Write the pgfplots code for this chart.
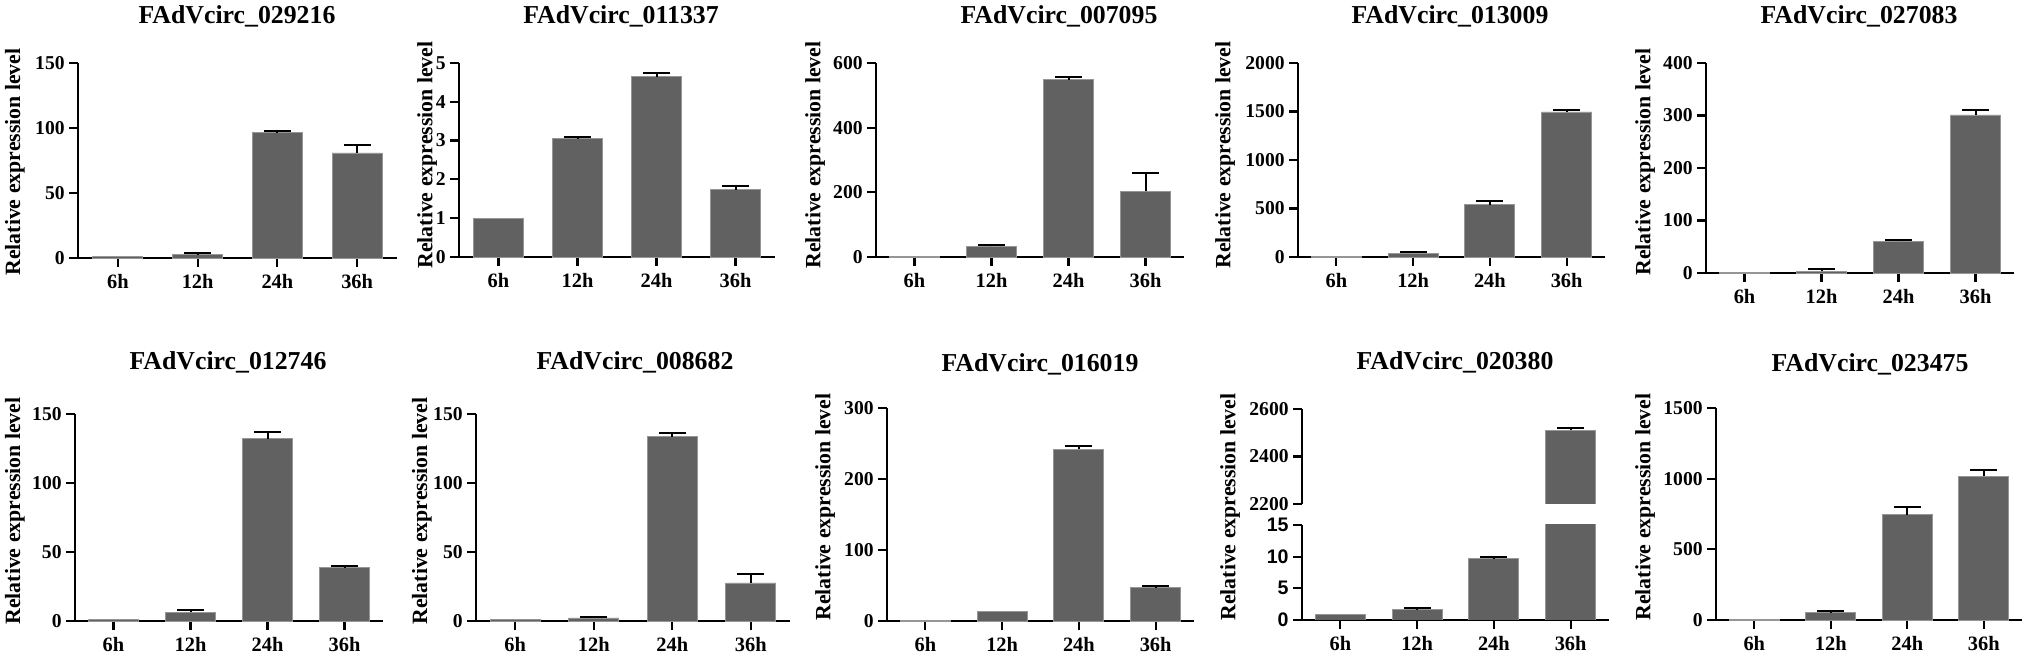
\documentclass[border=0pt]{standalone}
\usepackage{fontspec}
\setmainfont{Liberation Serif}
\newfontfamily\arialb{Liberation Sans}
\usepackage{pgfplots}
\pgfplotsset{compat=1.18}
\definecolor{barfill}{RGB}{97,97,97}
\definecolor{baredge}{RGB}{150,150,150}
\pgfplotsset{
  myaxis/.style={
    scale only axis, anchor=south west,
    ymin=0, ybar, bar width=25pt, bar shift=0pt,
    axis x line*=bottom, axis y line*=left, axis line style={-, line width=1pt, black},
    xtick align=outside, ytick align=outside, major tick length=4.5pt,
    major tick style={line width=1.1pt, black},
    xmin=-0.5, xmax=3.5, xtick={0,1,2,3}, xticklabels={6h,12h,24h,36h},
    /pgf/number format/assume math mode=true,
    /pgf/number format/1000 sep={},
    yticklabel style={font=\fontsize{9.8}{10}\selectfont\bfseries, inner sep=2pt},
    xticklabel style={font=\fontsize{10.2}{11}\selectfont\bfseries},
    clip=false,
  },
  plainbar/.style={fill=barfill, draw=baredge, line width=0.4pt, bar shift=0pt},
  mybar/.style={fill=barfill, draw=baredge, line width=0.4pt, bar shift=0pt,
    error bars/.cd, y dir=plus, y explicit,
    error bar style={line width=1pt, black},
    error mark options={rotate=90, mark size=6.75pt, line width=1pt, black}},
}
\newcommand{\ttl}[2]{\node[font=\fontsize{12.9}{14}\selectfont\bfseries] at #1 {#2};}
\newcommand{\ylab}[1]{\node[rotate=90, font=\fontsize{10.9}{12}\selectfont\bfseries] at #1 {Relative expression level};}
\begin{document}
\begin{tikzpicture}
\path[use as bounding box] (0,0) rectangle (1016pt,329pt);
% ---------- Row 1 ----------
\begin{axis}[myaxis, at={(39pt,200pt)}, width=159.5pt, height=97.5pt, ymax=150, ytick={0,50,100,150}]
\addplot[plainbar] coordinates {(0,1)};
\addplot[mybar] table[x=x,y=y,y error=e]{
x y e
1 2.6 1.2
2 96.3 1.2
3 80.8 6.4
};
\end{axis}
\ttl{(118.5pt,321pt)}{FAdVcirc\_029216}
\ylab{(7.5pt,248pt)}

\begin{axis}[myaxis, at={(229.5pt,200.5pt)}, width=158pt, height=97pt, ymax=5, ytick={0,1,2,3,4,5}]
\addplot[plainbar] coordinates {(0,1)};
\addplot[mybar] table[x=x,y=y,y error=e]{
x y e
1 3.05 0.05
2 4.65 0.09
3 1.73 0.09
};
\end{axis}
\ttl{(310.5pt,321pt)}{FAdVcirc\_011337}
\ylab{(213.5pt,251.5pt)}

\begin{axis}[myaxis, at={(438pt,200.5pt)}, width=154pt, height=97pt, ymax=600, ytick={0,200,400,600}]
\addplot[plainbar] coordinates {(0,1)};
\addplot[mybar] table[x=x,y=y,y error=e]{
x y e
1 33 5
2 548 9
3 203 57
};
\end{axis}
\ttl{(529.5pt,321pt)}{FAdVcirc\_007095}
\ylab{(407.5pt,251.5pt)}

\begin{axis}[myaxis, at={(649pt,200.5pt)}, width=153.5pt, height=97pt, ymax=2000, ytick={0,500,1000,1500,2000}]
\addplot[plainbar] coordinates {(0,1)};
\addplot[mybar] table[x=x,y=y,y error=e]{
x y e
1 41 14
2 540 34
3 1495 16
};
\end{axis}
\ttl{(725pt,321pt)}{FAdVcirc\_013009}
\ylab{(612.5pt,251.5pt)}

\begin{axis}[myaxis, at={(853pt,192.5pt)}, width=154pt, height=105pt, ymax=400, ytick={0,100,200,300,400}]
\addplot[plainbar] coordinates {(0,1)};
\addplot[mybar] table[x=x,y=y,y error=e]{
x y e
1 3 4.5
2 60 3
3 301 9
};
\end{axis}
\ttl{(929.5pt,321pt)}{FAdVcirc\_027083}
\ylab{(822.5pt,248pt)}

% ---------- Row 2 ----------
\begin{axis}[myaxis, at={(37.5pt,18.5pt)}, width=154pt, height=103.5pt, ymax=150, ytick={0,50,100,150}]
\addplot[plainbar] coordinates {(0,1)};
\addplot[mybar] table[x=x,y=y,y error=e]{
x y e
1 6.5 1.2
2 132 5
3 38.5 1.2
};
\end{axis}
\ttl{(114pt,148pt)}{FAdVcirc\_012746}
\ylab{(7.5pt,73.5pt)}

\begin{axis}[myaxis, at={(238pt,18.5pt)}, width=157pt, height=103.5pt, ymax=150, ytick={0,50,100,150}]
\addplot[plainbar] coordinates {(0,1)};
\addplot[mybar] table[x=x,y=y,y error=e]{
x y e
1 2.2 0.9
2 133.5 2.7
3 27.6 6.3
};
\end{axis}
\ttl{(317.5pt,148pt)}{FAdVcirc\_008682}
\ylab{(211pt,73.5pt)}

\begin{axis}[myaxis, at={(443.5pt,18.5pt)}, width=153.5pt, height=106.5pt, ymax=300, ytick={0,100,200,300}]
\addplot[plainbar] coordinates {(0,1)};
\addplot[plainbar] coordinates {(1,13.2)};
\addplot[mybar] table[x=x,y=y,y error=e]{
x y e
2 241.6 4.3
3 47.1 2.8
};
\end{axis}
\ttl{(520pt,147pt)}{FAdVcirc\_016019}
\ylab{(412.5pt,75.5pt)}

% broken axis panel: lower part
\begin{axis}[myaxis, at={(651pt,19pt)}, width=153.5pt, height=47.5pt, ymax=15, ytick={0,5,10,15}, clip=true,
  yticklabel style={font=\fontsize{9.8}{10}\selectfont\arialb\bfseries}]
\addplot[plainbar] coordinates {(0,0.95)};
\addplot[mybar] table[x=x,y=y,y error=e]{
x y e
1 1.65 0.2
2 9.7 0.2
3 2510 10
};
\end{axis}
% upper part
\begin{axis}[myaxis, at={(651pt,77pt)}, width=153.5pt, height=47.5pt, ymin=2200, ymax=2600, ytick={2200,2400,2600},
  axis x line=none, clip=true]
\addplot[mybar] table[x=x,y=y,y error=e]{
x y e
3 2510 10
};
\end{axis}
\ttl{(727.5pt,148pt)}{FAdVcirc\_020380}
\ylab{(615pt,75.5pt)}

\begin{axis}[myaxis, at={(858pt,19pt)}, width=153pt, height=106pt, ymax=1500, ytick={0,500,1000,1500}]
\addplot[plainbar] coordinates {(0,1)};
\addplot[mybar] table[x=x,y=y,y error=e]{
x y e
1 52 9
2 746 52
3 1016 47
};
\end{axis}
\ttl{(935pt,147pt)}{FAdVcirc\_023475}
\ylab{(822.5pt,75.5pt)}
\end{tikzpicture}
\end{document}
